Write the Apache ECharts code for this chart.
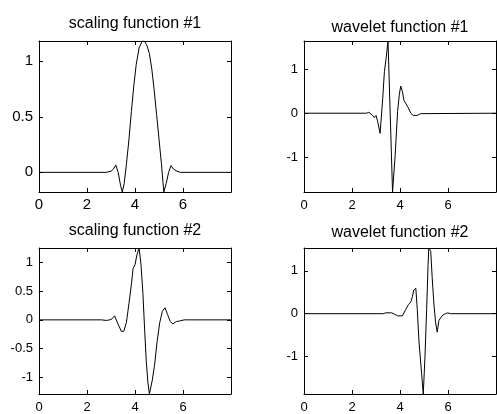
<!DOCTYPE html>
<html lang="en">
<head>
<meta charset="UTF-8">
<title>multiwavelet</title>
<style>
    *{
        margin: 0;
        padding: 0;
    }
    #main{
        width: 497px;
        height: 414px;
        background: #fff;
    }
</style>
</head>
<body>
<div id="main"></div>
<script src="https://cdn.jsdelivr.net/npm/echarts/dist/echarts.min.js"></script>
<script>
// panel titles
var titles = ['scaling function #1', 'wavelet function #1', 'scaling function #2', 'wavelet function #2'];

// x ticks shared by all panels
var xTicks = [0, 2, 4, 6];

// [x, y] samples
var scaling1 = [[0,0],[2.8,0],[3.0,0.01],[3.1,0.03],[3.2,0.066],[3.3,0.0],[3.4,-0.12],[3.47,-0.177],
    [3.55,-0.1],[3.64,0.07],[3.75,0.3],[3.85,0.55],[3.95,0.78],[4.05,0.97],[4.17,1.12],[4.3,1.183],
    [4.4,1.18],[4.5,1.14],[4.6,1.07],[4.7,0.93],[4.8,0.74],[4.9,0.52],[5.0,0.3],[5.1,0.08],
    [5.2,-0.177],[5.3,-0.1],[5.4,0.0],[5.5,0.06],[5.6,0.03],[5.75,0.01],[5.9,0],[8,0]];

var wavelet1 = [[0,0],[2.6,0],[2.7,0.02],[2.86,-0.05],[2.93,-0.1],[3.0,-0.05],[3.07,-0.19],[3.17,-0.46],
    [3.28,0.34],[3.35,0.95],[3.42,1.25],[3.5,1.65],[3.69,-1.8],[3.8,-0.95],[3.9,0.04],[3.97,0.42],
    [4.03,0.62],[4.1,0.5],[4.16,0.3],[4.24,0.27],[4.34,0.13],[4.45,0.0],[4.55,-0.05],[4.72,-0.05],
    [4.86,-0.01],[4.93,0],[8,0]];

var scaling2 = [[0,0],[2.6,0],[2.68,-0.02],[2.8,-0.01],[2.95,0.0],[3.05,0.02],[3.15,0.07],[3.29,-0.07],
    [3.43,-0.2],[3.53,-0.2],[3.64,-0.05],[3.75,0.29],[3.85,0.62],[3.92,0.89],[4.0,0.96],[4.08,1.13],
    [4.17,1.25],[4.25,0.96],[4.33,0.46],[4.4,-0.16],[4.47,-0.72],[4.54,-1.1],[4.6,-1.29],[4.72,-1.05],
    [4.82,-0.77],[4.92,-0.38],[5.03,-0.05],[5.14,0.15],[5.25,0.21],[5.36,0.09],[5.47,-0.03],
    [5.58,-0.07],[5.72,-0.03],[5.86,-0.02],[6.05,0],[8,0]];

var wavelet2 = [[0,0],[3.3,0],[3.4,0.02],[3.65,0.02],[3.8,-0.02],[3.9,-0.05],[4.1,-0.05],[4.24,0.1],
    [4.35,0.21],[4.45,0.27],[4.52,0.4],[4.57,0.55],[4.66,0.59],[4.72,0.1],[4.79,-0.64],[4.9,-1.39],
    [4.97,-1.87],[5.04,-1.01],[5.11,0.1],[5.17,1.15],[5.2,1.53],[5.28,1.45],[5.34,0.85],[5.41,0.25],
    [5.48,-0.19],[5.55,-0.43],[5.62,-0.16],[5.69,-0.1],[5.79,-0.03],[5.9,0.0],[5.99,0.02],[6.1,0],[8,0]];

// y limits (tight to data) and tick step
var yMin = [-0.177, -1.80, -1.29, -1.87];
var yMax = [1.183, 1.65, 1.25, 1.53];
var yStep = [0.5, 1, 0.5, 1];

var curves = [scaling1, wavelet1, scaling2, wavelet2];

// layout of the four boxes
var boxes = [
    {left: 39, top: 41, width: 192, height: 151, font: 15, xMargin: 5, titleTop: 16},
    {left: 304, top: 41, width: 192, height: 151, font: 13, xMargin: 7, titleTop: 20},
    {left: 39, top: 248, width: 192, height: 151, font: 13, xMargin: 7, titleTop: 223},
    {left: 304, top: 248, width: 192, height: 152, font: 13, xMargin: 7, titleTop: 225}
];

var FONT = '"Liberation Sans", Arial, sans-serif';

var myChart = echarts.init(document.getElementById('main'));

var option = {
    backgroundColor: '#fff',
    animation: false,
    title: [],
    grid: [],
    xAxis: [],
    yAxis: [],
    series: []
};

for (var i = 0; i < 4; i++) {
    var b = boxes[i];
    option.title.push({
        text: titles[i],
        left: b.left + b.width / 2,
        top: b.titleTop,
        textAlign: 'center',
        padding: 0,
        textStyle: {
            fontFamily: FONT,
            fontSize: 16,
            fontWeight: 'normal',
            color: '#000'
        }
    });
    option.grid.push({
        left: b.left,
        top: b.top,
        width: b.width,
        height: b.height,
        show: false
    });
    // bottom x axis with labels
    option.xAxis.push({
        type: 'value',
        gridIndex: i,
        position: 'bottom',
        min: 0,
        max: 8,
        minInterval: 2,
        maxInterval: 2,
        axisLine: {onZero: false, lineStyle: {color: '#000', width: 1}},
        axisTick: {inside: true, length: 4, lineStyle: {color: '#000'}},
        axisLabel: {
            margin: b.xMargin,
            color: '#000',
            fontFamily: FONT,
            fontSize: b.font,
            showMaxLabel: false,
            formatter: function(v){
                return xTicks.indexOf(v) >= 0 ? String(v) : '';
            }
        },
        splitLine: {show: false}
    });
    // top x axis: only the box edge and inward ticks
    option.xAxis.push({
        type: 'value',
        gridIndex: i,
        position: 'top',
        min: 0,
        max: 8,
        minInterval: 2,
        maxInterval: 2,
        axisLine: {onZero: false, lineStyle: {color: '#000', width: 1}},
        axisTick: {inside: true, length: 4, lineStyle: {color: '#000'}},
        axisLabel: {show: false},
        splitLine: {show: false}
    });
    option.yAxis.push({
        type: 'value',
        gridIndex: i,
        position: 'left',
        min: yMin[i],
        max: yMax[i],
        minInterval: yStep[i],
        maxInterval: yStep[i],
        axisLine: {onZero: false, lineStyle: {color: '#000', width: 1}},
        axisTick: {inside: true, length: 4, lineStyle: {color: '#000'}},
        axisLabel: {
            margin: 6,
            color: '#000',
            fontFamily: FONT,
            fontSize: b.font,
            showMinLabel: false,
            showMaxLabel: false
        },
        splitLine: {show: false}
    });
    option.yAxis.push({
        type: 'value',
        gridIndex: i,
        position: 'right',
        min: yMin[i],
        max: yMax[i],
        minInterval: yStep[i],
        maxInterval: yStep[i],
        axisLine: {onZero: false, lineStyle: {color: '#000', width: 1}},
        axisTick: {inside: true, length: 4, lineStyle: {color: '#000'}},
        axisLabel: {show: false},
        splitLine: {show: false}
    });
    option.series.push({
        type: 'line',
        xAxisIndex: i * 2,
        yAxisIndex: i * 2,
        data: curves[i],
        showSymbol: false,
        symbol: 'none',
        clip: true,
        lineStyle: {color: '#000', width: 1}
    });
}

myChart.setOption(option);
</script>
</body>
</html>
